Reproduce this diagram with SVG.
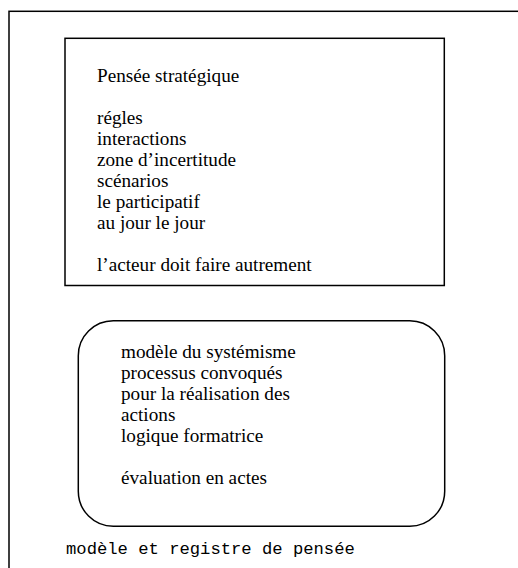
<svg xmlns="http://www.w3.org/2000/svg" width="518" height="568" viewBox="0 0 518 568">
<style>
.box{fill:none;stroke:#000;stroke-width:1.5}
.t{font-family:"Liberation Serif","Times New Roman",serif;font-size:19.2px;fill:#000}
.m{font-family:"Liberation Mono","Courier New",monospace;font-size:17.2px;fill:#000}
</style>
<rect width="518" height="568" fill="#fff"/>
<g id="frame">
<rect class="box" x="9" y="11.3" width="540" height="600"/>
<text class="m" x="66" y="554">modèle et registre de pensée</text>
</g>
<g id="connectors"></g>
<g id="node-strategique">
<rect class="box" x="65" y="38.3" width="379.3" height="247.2"/>
<text class="t" x="97" y="81.5">Pensée stratégique</text>
<text class="t" x="97" y="123.5">régles</text>
<text class="t" x="97" y="144.5">interactions</text>
<text class="t" x="97" y="165.5">zone d’incertitude</text>
<text class="t" x="97" y="186.5">scénarios</text>
<text class="t" x="97" y="207.5">le participatif</text>
<text class="t" x="97" y="228.5">au jour le jour</text>
<text class="t" x="97" y="270.5">l’acteur doit faire autrement</text>
</g>
<g id="node-systemisme">
<rect class="box" x="78.3" y="320.7" width="366.4" height="205.6" rx="35" ry="35"/>
<text class="t" x="121" y="358">modèle du systémisme</text>
<text class="t" x="121" y="379">processus convoqués</text>
<text class="t" x="121" y="400">pour la réalisation des</text>
<text class="t" x="121" y="421">actions</text>
<text class="t" x="121" y="442">logique formatrice</text>
<text class="t" x="121" y="484">évaluation en actes</text>
</g>
</svg>
